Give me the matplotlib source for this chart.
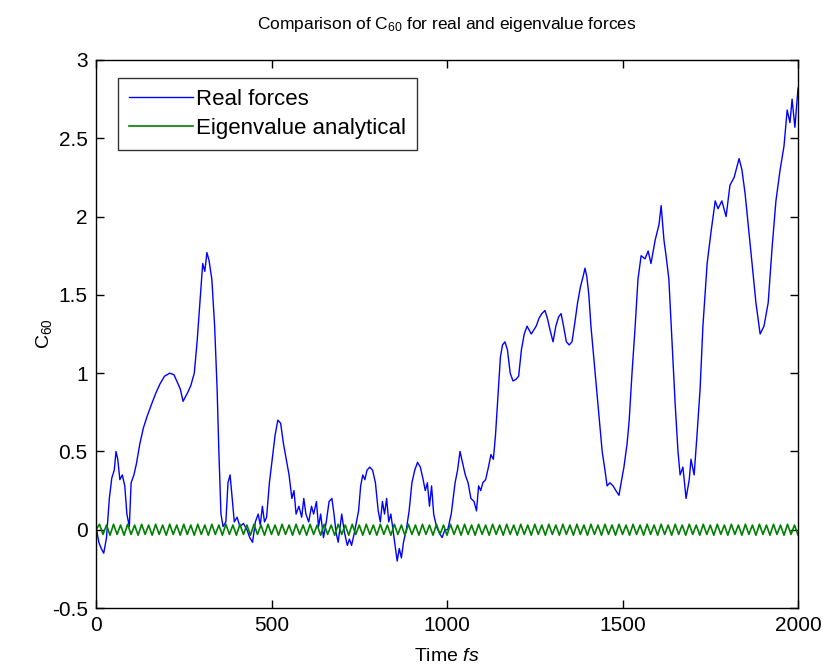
import matplotlib
matplotlib.use("Agg")
import matplotlib.pyplot as plt

plt.rcParams["font.family"] = ["Liberation Sans", "DejaVu Sans"]
plt.rcParams["mathtext.fontset"] = "custom"
plt.rcParams["mathtext.rm"] = "Liberation Sans"
plt.rcParams["mathtext.it"] = "Liberation Sans:italic"
plt.rcParams["mathtext.default"] = "regular"

# --- data ---
real_t = [0, 8, 15, 22, 30, 38, 45, 52, 57, 62, 68, 75, 82, 88, 95, 100, 108, 115,
          125, 135, 145, 158, 170, 182, 195, 210, 222, 230, 240, 248, 255, 262, 270,
          280, 288, 296, 304, 310, 316, 322, 330, 338, 345, 350, 356, 362, 370, 376,
          382, 388, 394, 402, 410, 420, 430, 438, 446, 454, 462, 468, 474, 480, 486,
          494, 502, 510, 518, 526, 534, 542, 550, 558, 564, 570, 578, 586, 592, 598,
          606, 614, 620, 628, 634, 640, 648, 656, 664, 672, 678, 684, 690, 700, 708,
          716, 722, 728, 736, 742, 748, 754, 760, 766, 772, 780, 788, 796, 804, 810,
          816, 822, 828, 834, 840, 846, 852, 858, 864, 870, 876, 884, 892, 900, 908,
          916, 924, 932, 938, 944, 950, 956, 962, 970, 978, 986, 994, 1002, 1012,
          1023, 1030, 1037, 1045, 1052, 1060, 1068, 1077, 1084, 1090, 1096, 1102,
          1110, 1118, 1125, 1132, 1138, 1145, 1152, 1158, 1165, 1172, 1180, 1188,
          1196, 1204, 1212, 1220, 1228, 1240, 1254, 1262, 1270, 1279, 1286, 1293,
          1302, 1310, 1318, 1325, 1332, 1340, 1348, 1356, 1364, 1372, 1380, 1388,
          1393, 1398, 1404, 1410, 1418, 1426, 1434, 1442, 1450, 1456, 1464, 1473,
          1481, 1490, 1496, 1504, 1513, 1519, 1527, 1536, 1544, 1553, 1564, 1573,
          1581, 1593, 1604, 1610, 1618, 1624, 1632, 1641, 1650, 1658, 1664, 1672,
          1681, 1690, 1695, 1704, 1712, 1721, 1729, 1741, 1752, 1764, 1772, 1783,
          1795, 1806, 1818, 1832, 1840, 1849, 1858, 1869, 1880, 1892, 1903, 1915,
          1926, 1937, 1949, 1960, 1969, 1977, 1983, 1991, 2000]
real_c60 = [0.02, -0.08, -0.12, -0.15, -0.05, 0.2, 0.33, 0.38, 0.5, 0.45, 0.32, 0.35,
            0.28, 0.1, 0.02, 0.3, 0.35, 0.42, 0.55, 0.65, 0.72, 0.8, 0.87, 0.93, 0.98,
            1.0, 0.99, 0.95, 0.9, 0.82, 0.85, 0.88, 0.92, 1.0, 1.2, 1.45, 1.7, 1.65,
            1.77, 1.72, 1.6, 1.3, 0.9, 0.5, 0.1, 0.02, 0.05, 0.3, 0.35, 0.2, 0.05, 0.08,
            0.02, 0.04, 0.0, -0.05, -0.08, 0.05, 0.1, 0.03, 0.15, 0.05, 0.08, 0.3, 0.45,
            0.6, 0.7, 0.68, 0.55, 0.45, 0.35, 0.2, 0.25, 0.1, 0.15, 0.08, 0.2, 0.1,
            0.05, 0.15, 0.1, 0.18, 0.02, 0.1, -0.05, 0.05, 0.18, 0.2, 0.1, -0.02,
            -0.08, 0.1, -0.02, -0.1, -0.06, -0.1, -0.02, 0.05, 0.12, 0.28, 0.35, 0.32,
            0.38, 0.4, 0.38, 0.3, 0.12, 0.05, 0.18, 0.1, 0.2, 0.05, 0.1, 0.0, -0.1,
            -0.2, -0.12, -0.18, -0.08, 0.0, 0.12, 0.3, 0.38, 0.43, 0.4, 0.32, 0.25, 0.3,
            0.15, 0.28, 0.1, 0.02, -0.02, -0.05, 0.0, 0.0, 0.1, 0.3, 0.38, 0.5, 0.42,
            0.35, 0.3, 0.2, 0.18, 0.12, 0.28, 0.25, 0.3, 0.32, 0.4, 0.48, 0.45, 0.6,
            0.85, 1.1, 1.18, 1.2, 1.15, 1.0, 0.95, 0.96, 0.98, 1.15, 1.25, 1.3, 1.25,
            1.3, 1.35, 1.38, 1.4, 1.35, 1.28, 1.2, 1.3, 1.36, 1.38, 1.3, 1.2, 1.18,
            1.2, 1.32, 1.45, 1.55, 1.62, 1.67, 1.62, 1.5, 1.3, 1.1, 0.9, 0.7, 0.5,
            0.38, 0.28, 0.3, 0.28, 0.25, 0.22, 0.3, 0.4, 0.55, 0.7, 1.0, 1.3, 1.6,
            1.75, 1.73, 1.78, 1.7, 1.85, 1.95, 2.07, 1.85, 1.75, 1.6, 1.2, 0.8, 0.5,
            0.35, 0.4, 0.2, 0.32, 0.45, 0.35, 0.6, 0.9, 1.3, 1.7, 1.9, 2.1, 2.05, 2.1,
            2.0, 2.2, 2.25, 2.37, 2.3, 2.15, 1.95, 1.7, 1.45, 1.25, 1.3, 1.45, 1.8, 2.1,
            2.3, 2.45, 2.68, 2.6, 2.75, 2.57, 2.82]

# eigenvalue curve: extrema every 10 fs
eig_t = list(range(0, 2001, 10))
eig_c60 = [0.0,
           0.035, -0.03, 0.03, -0.035, 0.035, -0.03, 0.03, -0.035, 0.035, -0.03,
           0.03, -0.035, 0.035, -0.03, 0.03, -0.035, 0.035, -0.03, 0.03, -0.035,
           0.035, -0.03, 0.03, -0.035, 0.035, -0.03, 0.03, -0.035, 0.035, -0.03,
           0.03, -0.035, 0.035, -0.03, 0.03, -0.035, 0.035, -0.03, 0.03, -0.035,
           0.035, -0.03, 0.03, -0.035, 0.035, -0.03, 0.03, -0.035, 0.035, -0.03,
           0.03, -0.035, 0.035, -0.03, 0.03, -0.035, 0.035, -0.03, 0.03, -0.035,
           0.035, -0.03, 0.03, -0.035, 0.035, -0.03, 0.03, -0.035, 0.035, -0.03,
           0.03, -0.035, 0.035, -0.03, 0.03, -0.035, 0.035, -0.03, 0.03, -0.035,
           0.035, -0.03, 0.03, -0.035, 0.035, -0.03, 0.03, -0.035, 0.035, -0.03,
           0.03, -0.035, 0.035, -0.03, 0.03, -0.035, 0.035, -0.03, 0.03, -0.035,
           0.035, -0.03, 0.03, -0.035, 0.035, -0.03, 0.03, -0.035, 0.035, -0.03,
           0.03, -0.035, 0.035, -0.03, 0.03, -0.035, 0.035, -0.03, 0.03, -0.035,
           0.035, -0.03, 0.03, -0.035, 0.035, -0.03, 0.03, -0.035, 0.035, -0.03,
           0.03, -0.035, 0.035, -0.03, 0.03, -0.035, 0.035, -0.03, 0.03, -0.035,
           0.035, -0.03, 0.03, -0.035, 0.035, -0.03, 0.03, -0.035, 0.035, -0.03,
           0.03, -0.035, 0.035, -0.03, 0.03, -0.035, 0.035, -0.03, 0.03, -0.035,
           0.035, -0.03, 0.03, -0.035, 0.035, -0.03, 0.03, -0.035, 0.035, -0.03,
           0.03, -0.035, 0.035, -0.03, 0.03, -0.035, 0.035, -0.03, 0.03, -0.035,
           0.035, -0.03, 0.03, -0.035, 0.035, -0.03, 0.03, -0.035, 0.035, -0.03,
           0.03, -0.035, 0.035, -0.03, 0.03, -0.035, 0.035, -0.03, 0.03, -0.035]

x_ticks = [0, 500, 1000, 1500, 2000]
y_ticks = [-0.5, 0, 0.5, 1, 1.5, 2, 2.5, 3]
y_tick_labels = ["-0.5", "0", "0.5", "1", "1.5", "2", "2.5", "3"]

# --- figure ---
fig = plt.figure(figsize=(8.24, 6.70), dpi=100)
ax = fig.add_axes([0.1165, 0.0925, 0.852, 0.818])

ax.plot(real_t, real_c60, color="#0000ff", lw=1.0, label="Real forces")
ax.plot(eig_t, eig_c60, color="#008000", lw=1.2, label="Eigenvalue analytical")

ax.set_xlim(0, 2000)
ax.set_ylim(-0.5, 3)
ax.set_xticks(x_ticks)
ax.set_yticks(y_ticks)
ax.set_yticklabels(y_tick_labels)
ax.tick_params(direction="in", length=6, width=1, top=True, right=True,
               labelsize=15, pad=6)
for s in ax.spines.values():
    s.set_linewidth(1)

ax.set_title("Comparison of C$_{60}$ for real and eigenvalue forces",
             fontsize=12.5, pad=22)
ax.set_xlabel("Time $\\mathit{fs}$", fontsize=14, labelpad=9)
ax.set_ylabel("C$_{60}$", fontsize=14, labelpad=-2)

leg = ax.legend(loc="upper left", bbox_to_anchor=(0.031, 0.967), fontsize=16,
                frameon=True, fancybox=False, borderaxespad=0, handlelength=2.9,
                handletextpad=0.1, borderpad=0.5, labelspacing=0.35)
leg.get_frame().set_edgecolor("black")
leg.get_frame().set_linewidth(1)

fig.savefig("out.png", dpi=100)
